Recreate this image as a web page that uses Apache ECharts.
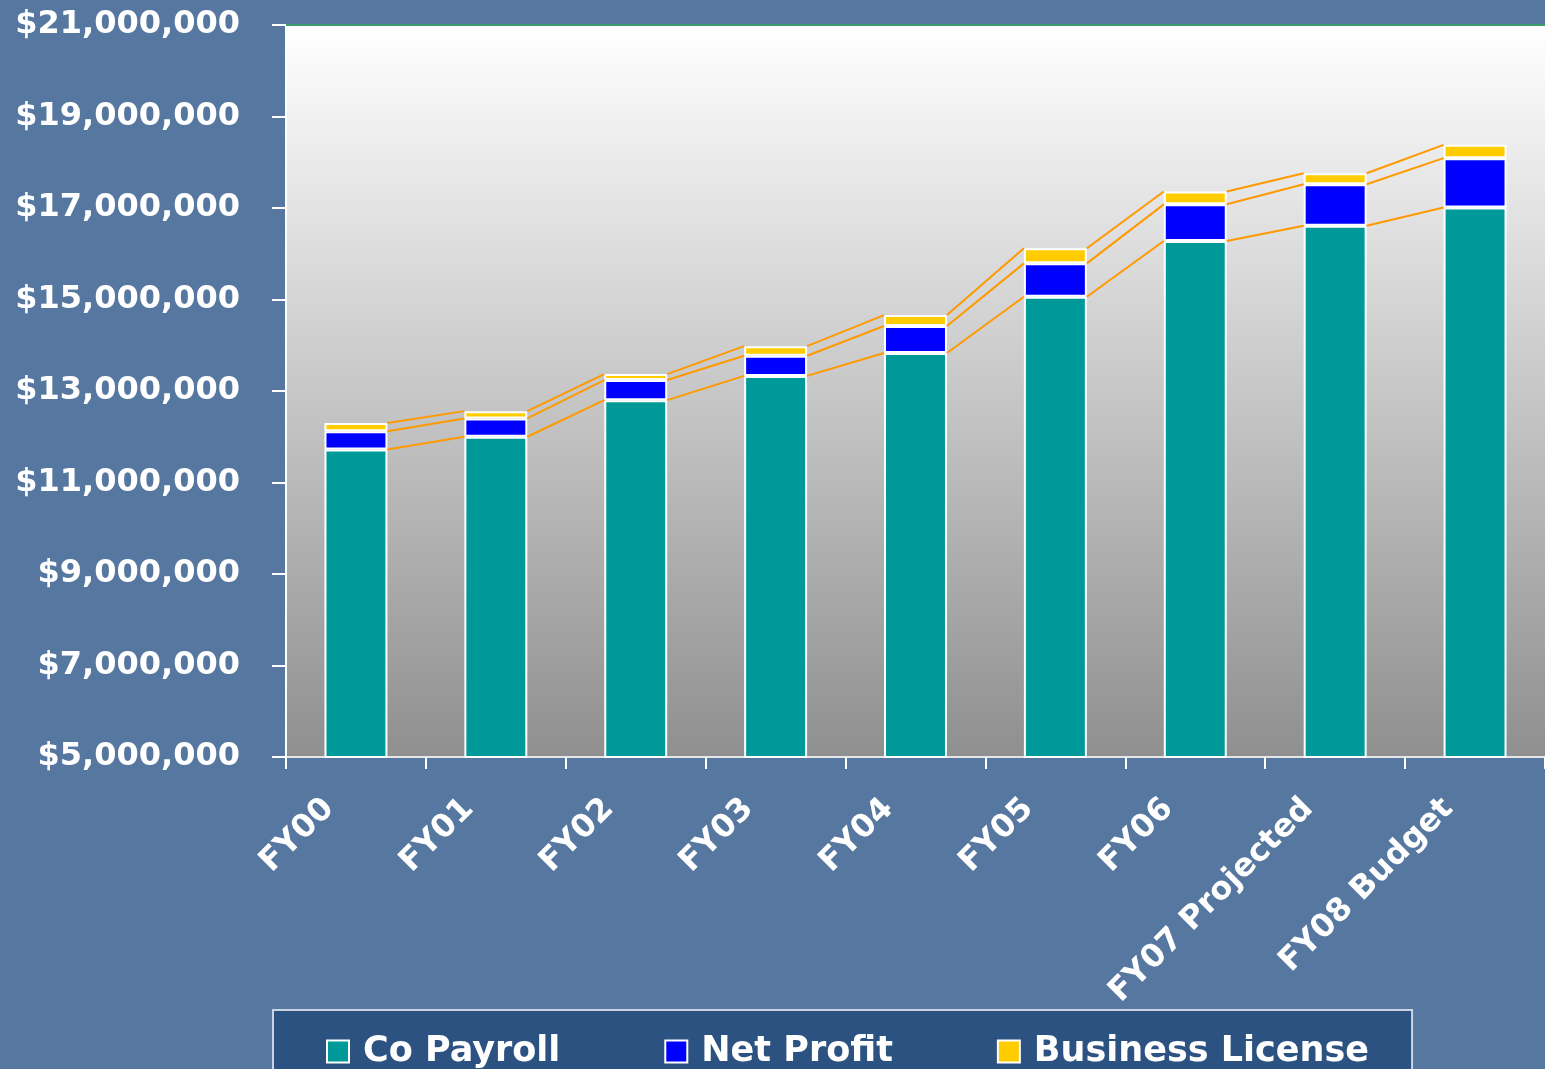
<!DOCTYPE html>
<html>
  <head>
    <meta charset="utf-8" />
    <title>Payroll, Net Profit and Business License</title>
    <style>
      html, body { margin: 0; padding: 0; background: #56779f; }
      #chart-container { width: 1545px; height: 1069px; }
    </style>
  </head>
  <body>
    <div id="chart-container"></div>
    <script src="https://cdn.jsdelivr.net/npm/echarts@6/dist/echarts.min.js"></script>
    <script>
      // values (dollars)
      var categories = ["FY00", "FY01", "FY02", "FY03", "FY04", "FY05", "FY06", "FY07 Projected", "FY08 Budget"];
      var coPayroll = [11720000, 12000000, 12800000, 13330000, 13830000, 15060000, 16280000, 16610000, 17010000];
      var netProfit = [400000, 400000, 440000, 440000, 590000, 730000, 800000, 910000, 1080000];
      var businessLicense = [180000, 160000, 130000, 210000, 240000, 330000, 280000, 240000, 290000];
      var seriesNames = ["Co Payroll", "Net Profit", "Business License"];
      var seriesColors = ["#009999", "#0000ff", "#ffcc00"];

      var BAR_RATIO = 0.45;
      var font = "DejaVu Sans";

      var dom = document.getElementById("chart-container");
      var myChart = echarts.init(dom, null, { renderer: "canvas" });

      // cumulative tops, used for the connecting series lines
      var tops = [[], [], []];
      for (var i = 0; i < categories.length; i++) {
        tops[0].push(coPayroll[i]);
        tops[1].push(coPayroll[i] + netProfit[i]);
        tops[2].push(coPayroll[i] + netProfit[i] + businessLicense[i]);
      }
      var lineData = [];
      for (var k = 0; k < 3; k++) {
        for (var j = 0; j < categories.length - 1; j++) {
          lineData.push([j, tops[k][j], tops[k][j + 1]]);
        }
      }

      function fmtMoney(v) {
        return "$" + String(Math.round(v)).replace(/\B(?=(\d{3})+(?!\d))/g, ",");
      }

      var barValues = [coPayroll, netProfit, businessLicense];
      var seriesList = seriesNames.map(function (name, idx) {
        var s = {
          name: name,
          type: "bar",
          stack: "total",
          barWidth: BAR_RATIO * 100 + "%",
          data: barValues[idx],
          itemStyle: { color: seriesColors[idx], borderColor: "#ffffff", borderWidth: 2 },
          silent: true
        };
        if (idx === 0) {
          s.markLine = {
            silent: true,
            symbol: "none",
            label: { show: false },
            lineStyle: { color: "#3c9c6c", width: 2, type: "solid" },
            data: [{ yAxis: 21000000 }]
          };
        }
        return s;
      });

      seriesList.push({
        type: "custom",
        name: "series lines",
        silent: true,
        z: 5,
        encode: { x: 0, y: [1, 2] },
        data: lineData,
        renderItem: function (params, api) {
          var x = api.value(0);
          var p0 = api.coord([x, api.value(1)]);
          var p1 = api.coord([x + 1, api.value(2)]);
          var half = api.size([1, 0])[0] * BAR_RATIO / 2;
          return {
            type: "line",
            shape: { x1: p0[0] + half, y1: p0[1], x2: p1[0] - half, y2: p1[1] },
            style: { stroke: "#ff9900", lineWidth: 2 }
          };
        }
      });

      var option = {
        backgroundColor: "#56779f",
        animation: false,
        grid: {
          left: 286,
          right: 0,
          top: 25,
          bottom: 312,
          show: true,
          borderWidth: 0,
          backgroundColor: new echarts.graphic.LinearGradient(0, 0, 0, 1, [
            { offset: 0, color: "#ffffff" },
            { offset: 1, color: "#8f8f8f" }
          ])
        },
        legend: {
          data: seriesNames,
          left: 273,
          top: 1010,
          padding: [24, 43, 30, 53],
          itemGap: 104,
          itemWidth: 22,
          itemHeight: 22,
          icon: "rect",
          backgroundColor: "#2c5282",
          borderColor: "#c8d4e4",
          borderWidth: 2,
          borderRadius: 0,
          textStyle: {
            color: "#ffffff",
            fontFamily: font,
            fontWeight: "bold",
            fontSize: 35,
            padding: [0, 0, 0, 9]
          }
        },
        xAxis: {
          type: "category",
          data: categories,
          axisLine: { lineStyle: { color: "#e6e6e6", width: 2 } },
          axisTick: { show: true, length: 12, lineStyle: { color: "#ffffff", width: 2 } },
          axisLabel: {
            color: "#ffffff",
            fontFamily: font,
            fontWeight: "bold",
            fontSize: 32,
            rotate: 45,
            margin: 20,
            padding: [0, 38, 0, 0],
            interval: 0
          }
        },
        yAxis: {
          type: "value",
          min: 5000000,
          max: 21000000,
          interval: 2000000,
          axisLine: { show: true, lineStyle: { color: "#ffffff", width: 2 } },
          axisTick: { show: true, length: 14, lineStyle: { color: "#ffffff", width: 2 } },
          splitLine: { show: false },
          axisLabel: {
            color: "#ffffff",
            fontFamily: font,
            fontWeight: "bold",
            fontSize: 32,
            margin: 46,
            formatter: fmtMoney
          }
        },
        series: seriesList
      };

      myChart.setOption(option);
      window.addEventListener("resize", myChart.resize);
    </script>
  </body>
</html>
